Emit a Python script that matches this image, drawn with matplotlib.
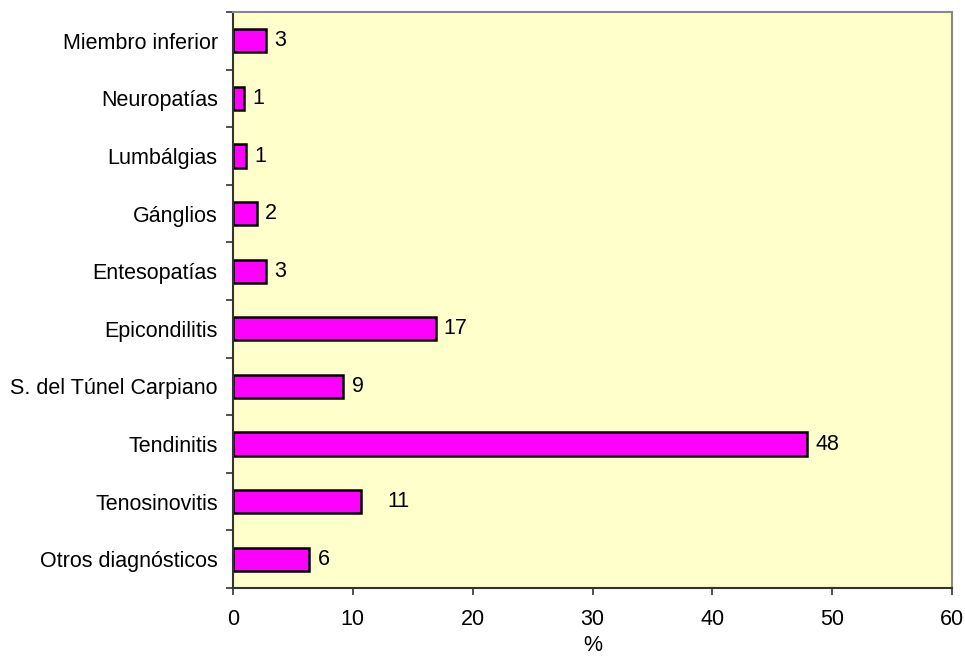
import matplotlib
matplotlib.use('Agg')
import matplotlib.pyplot as plt
import numpy as np

# categories from bottom to top
categories = ['Otros diagnósticos', 'Tenosinovitis', 'Tendinitis',
              'S. del Túnel Carpiano', 'Epicondilitis', 'Entesopatías',
              'Gánglios', 'Lumbálgias', 'Neuropatías', 'Miembro inferior']
values = [6.35, 10.7, 47.9, 9.2, 16.9, 2.73, 2.0, 1.06, 0.89, 2.73]
value_labels = ['6', '11', '48', '9', '17', '3', '2', '1', '1', '3']
x_ticks = [0, 10, 20, 30, 40, 50, 60]

plt.rcParams['font.family'] = ['Liberation Sans', 'DejaVu Sans']
fs = 15.5

fig = plt.figure(figsize=(9.65, 6.57), dpi=100)
ax = fig.add_axes([233 / 965, 1 - 588 / 657, (952 - 233) / 965, (588 - 12) / 657])
ax.set_facecolor('#FFFFCC')

y = np.arange(len(categories))
ax.barh(y, values, height=0.4, color='#FF00FF', edgecolor='black', linewidth=1.8)

# value labels next to the bars (the "11" sits a bit further out in the original)
for i, (v, lab) in enumerate(zip(values, value_labels)):
    off = 6 + (13 if lab == '11' else 0)
    ax.annotate(lab, (v, i), xytext=(off, 0), textcoords='offset points',
                va='center', ha='left', fontsize=fs)

ax.set_xlim(0, 60)
ax.set_ylim(-0.5, len(categories) - 0.5)
ax.set_xticks(x_ticks)
ax.set_yticks(y)
ax.set_yticklabels(categories)
ax.set_yticks(np.arange(len(categories) + 1) - 0.5, minor=True)
ax.tick_params(axis='y', which='major', length=0, pad=11, labelsize=fs)
ax.tick_params(axis='y', which='minor', length=5, width=1.2, direction='out', color='#333333')
ax.tick_params(axis='x', length=5, width=1.2, direction='out', pad=10, labelsize=fs, color='#333333')
ax.set_xlabel('%', fontsize=fs, labelpad=4)

for s in ['left', 'bottom']:
    ax.spines[s].set_color('#333333')
    ax.spines[s].set_linewidth(1.5)
for s in ['top', 'right']:
    ax.spines[s].set_color('#888888')
    ax.spines[s].set_linewidth(1.5)

fig.savefig('out.png', dpi=100)
